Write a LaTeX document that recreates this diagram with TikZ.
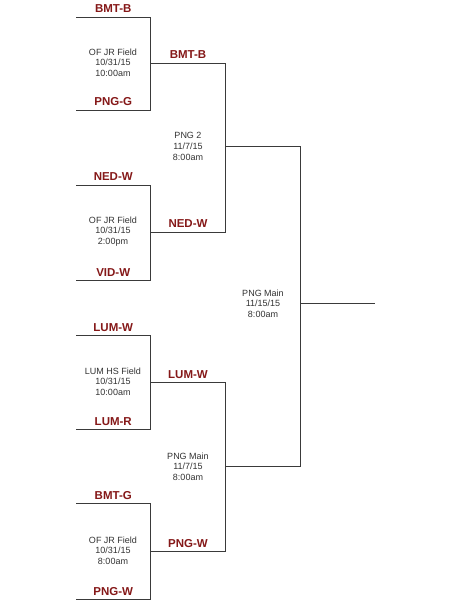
\documentclass[tikz,border=0pt]{standalone}
\usepackage{fontspec}
\setmainfont{Liberation Sans}
\usepackage{xcolor}
\usepackage{tikz}
\usetikzlibrary{calc, positioning}

\definecolor{teamred}{HTML}{851818}
\definecolor{linegray}{HTML}{3A3A3A}
\definecolor{venuegray}{HTML}{333333}

\begin{document}
\begin{tikzpicture}[x=1pt, y=-1pt,
    bracket/.style={draw=linegray, line width=1.5pt},
    team/.style={text=teamred, anchor=base, yshift=4.5pt,
        font=\fontsize{11.5}{12}\selectfont\bfseries},
    venue/.style={align=center, text=venuegray, inner sep=0pt,
        font=\fontsize{9}{10.7}\selectfont}]

    % =================================================================
    % KHUNG HÌNH
    % =================================================================
    \fill[white] (0,0) rectangle (451,601);
    \useasboundingbox (0,0) rectangle (451,601);

    % =================================================================
    % TỌA ĐỘ VÒNG 1
    % =================================================================
    % Trận 1
    \coordinate (m1t) at (76,17.5);    \coordinate (m1tr) at (150.5,17.5);
    \coordinate (m1b) at (76,110.5);   \coordinate (m1br) at (150.5,110.5);
    \coordinate (m1o) at (150.5,63.5); \coordinate (m1or) at (225.5,63.5);
    % Trận 2
    \coordinate (m2t) at (76,185.5);   \coordinate (m2tr) at (150.5,185.5);
    \coordinate (m2b) at (76,280.5);   \coordinate (m2br) at (150.5,280.5);
    \coordinate (m2o) at (150.5,232.5);\coordinate (m2or) at (225.5,232.5);
    % Trận 3
    \coordinate (m3t) at (76,335.5);   \coordinate (m3tr) at (150.5,335.5);
    \coordinate (m3b) at (76,429.5);   \coordinate (m3br) at (150.5,429.5);
    \coordinate (m3o) at (150.5,382.5);\coordinate (m3or) at (225.5,382.5);
    % Trận 4
    \coordinate (m4t) at (76,503.5);   \coordinate (m4tr) at (150.5,503.5);
    \coordinate (m4b) at (76,599.5);   \coordinate (m4br) at (150.5,599.5);
    \coordinate (m4o) at (150.5,551.5);\coordinate (m4or) at (225.5,551.5);

    % =================================================================
    % TỌA ĐỘ BÁN KẾT VÀ CHUNG KẾT
    % =================================================================
    \coordinate (s1o) at (225.5,146.5); \coordinate (s1or) at (300.5,146.5);
    \coordinate (s2o) at (225.5,466.5); \coordinate (s2or) at (300.5,466.5);
    \coordinate (fo) at (300.5,303.5);  \coordinate (for) at (375,303.5);

    % =================================================================
    % VÒNG 1
    % =================================================================
    \draw[bracket] (m1t) -- node[team] (tm1t) {BMT-B} (m1tr) -- (m1br);
    \draw[bracket] (m1b) -- node[team] (tm1b) {PNG-G} (m1br);
    \draw[bracket] (m1o) -- node[team] (tm1o) {BMT-B} (m1or);

    \draw[bracket] (m2t) -- node[team] (tm2t) {NED-W} (m2tr) -- (m2br);
    \draw[bracket] (m2b) -- node[team] (tm2b) {VID-W} (m2br);
    \draw[bracket] (m2o) -- node[team] (tm2o) {NED-W} (m2or);

    \draw[bracket] (m3t) -- node[team] (tm3t) {LUM-W} (m3tr) -- (m3br);
    \draw[bracket] (m3b) -- node[team] (tm3b) {LUM-R} (m3br);
    \draw[bracket] (m3o) -- node[team] (tm3o) {LUM-W} (m3or);

    \draw[bracket] (m4t) -- node[team] (tm4t) {BMT-G} (m4tr) -- (m4br);
    \draw[bracket] (m4b) -- node[team] (tm4b) {PNG-W} (m4br);
    \draw[bracket] (m4o) -- node[team] (tm4o) {PNG-W} (m4or);

    % =================================================================
    % BÁN KẾT VÀ CHUNG KẾT
    % =================================================================
    \draw[bracket] (m1or) -- (m2or);
    \draw[bracket] (s1o) -- (s1or);
    \draw[bracket] (m3or) -- (m4or);
    \draw[bracket] (s2o) -- (s2or);
    \draw[bracket] (s1or) -- (s2or);
    \draw[bracket] (fo) -- (for);

    % =================================================================
    % ĐỊA ĐIỂM VÀ THỜI GIAN
    % =================================================================
    \node[venue] (v1) at ($(m1o)+(-37.5,-1)$) {OF JR Field\\10/31/15\\10:00am};
    \node[venue] (v2) at ($(m2o)+(-37.5,-1)$) {OF JR Field\\10/31/15\\2:00pm};
    \node[venue] (v3) at ($(m3o)+(-37.5,-1)$) {LUM HS Field\\10/31/15\\10:00am};
    \node[venue] (v4) at ($(m4o)+(-37.5,-1)$) {OF JR Field\\10/31/15\\8:00am};
    \node[venue] (vs1) at ($(s1o)+(-37.5,0)$) {PNG 2\\11/7/15\\8:00am};
    \node[venue] (vs2) at ($(s2o)+(-37.5,0)$) {PNG Main\\11/7/15\\8:00am};
    \node[venue] (vf) at ($(fo)+(-37.5,0)$) {PNG Main\\11/15/15\\8:00am};

\end{tikzpicture}
\end{document}
